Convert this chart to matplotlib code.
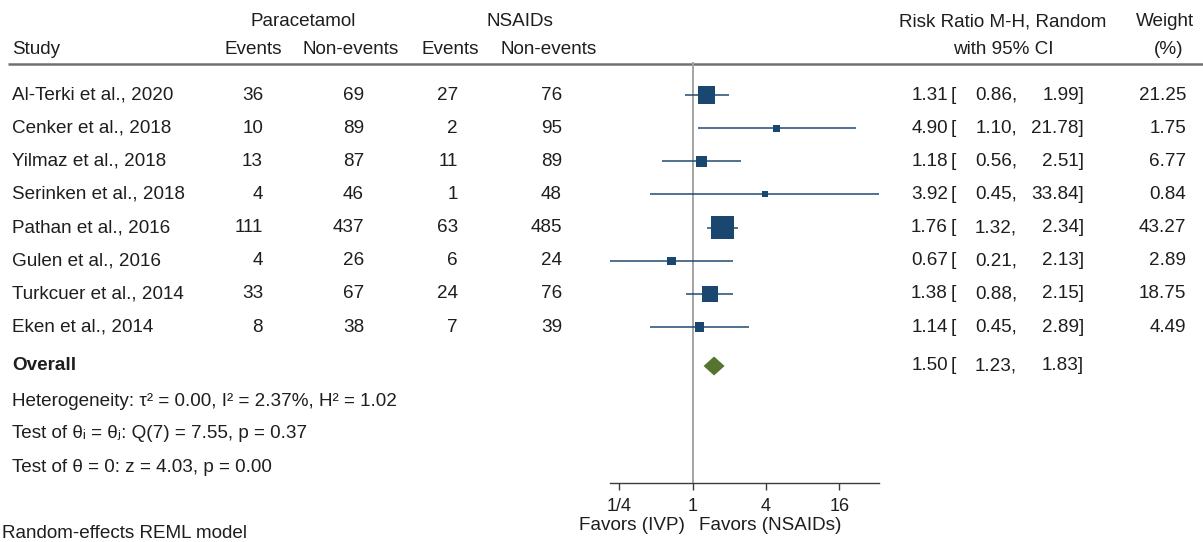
import matplotlib
matplotlib.use("Agg")
import matplotlib.pyplot as plt
import numpy as np

plt.rcParams['font.family'] = ['Liberation Sans', 'DejaVu Sans']

studies = ["Al-Terki et al., 2020", "Cenker et al., 2018", "Yilmaz et al., 2018",
           "Serinken et al., 2018", "Pathan et al., 2016", "Gulen et al., 2016",
           "Turkcuer et al., 2014", "Eken et al., 2014"]
para_events = [36, 10, 13, 4, 111, 4, 33, 8]
para_nonevents = [69, 89, 87, 46, 437, 26, 67, 38]
nsaid_events = [27, 2, 11, 1, 63, 6, 24, 7]
nsaid_nonevents = [76, 95, 89, 48, 485, 24, 76, 39]
rr = [1.31, 4.90, 1.18, 3.92, 1.76, 0.67, 1.38, 1.14]
rr_lo = [0.86, 1.10, 0.56, 0.45, 1.32, 0.21, 0.88, 0.45]
rr_hi = [1.99, 21.78, 2.51, 33.84, 2.34, 2.13, 2.15, 2.89]
weights = [21.25, 1.75, 6.77, 0.84, 43.27, 2.89, 18.75, 4.49]
overall_rr, overall_lo, overall_hi = 1.50, 1.23, 1.83
tick_vals = [0.25, 1, 4, 16]
tick_labels = ["1/4", "1", "4", "16"]
stats_lines = ["Heterogeneity: \u03c4\u00b2 = 0.00, I\u00b2 = 2.37%, H\u00b2 = 1.02",
               "Test of \u03b8\u1d62 = \u03b8\u2c7c: Q(7) = 7.55, p = 0.37",
               "Test of \u03b8 = 0: z = 4.03, p = 0.00"]

W, H = 1203, 542
FS = 13.6
NAVY = "#1a476f"
GREEN = "#55752f"
TXT = "#1e1e1e"

fig = plt.figure(figsize=(W / 100, H / 100), dpi=100)
bg = fig.add_axes([0, 0, 1, 1])
bg.set_xlim(0, W)
bg.set_ylim(H, 0)
bg.axis("off")

# forest axes (pixel-based y)
ax_left, ax_right, ax_top, ax_bot = 610, 879, 62, 483
ax = fig.add_axes([ax_left / W, (H - ax_bot) / H, (ax_right - ax_left) / W, (ax_bot - ax_top) / H])
ax.patch.set_alpha(0)
ax.set_xscale("log", base=2)
ax.set_xlim(min(rr_lo), max(rr_hi))
ax.set_ylim(ax_bot, ax_top)
for s in ["top", "right", "left"]:
    ax.spines[s].set_visible(False)
ax.spines["bottom"].set_color("#3c3c3c")
ax.spines["bottom"].set_linewidth(1.0)
ax.set_yticks([])
ax.set_xticks(tick_vals)
ax.set_xticklabels(tick_labels)
ax.minorticks_off()
ax.tick_params(axis="x", length=5, width=1.0, color="#3c3c3c", pad=6, labelsize=13, labelcolor=TXT)
ax.axvline(1, color="#a4a4a4", lw=1.4, zorder=1)

row0, dy = 95, 33.15
rows_y = [row0 + i * dy for i in range(len(studies))]
overall_y = 366

# CI lines and squares
ax.hlines(rows_y, rr_lo, rr_hi, color=NAVY, lw=1.2, zorder=2, alpha=0.9)
sides = [3.2 + 3.0 * np.sqrt(w) for w in weights]
ax.scatter(rr, rows_y, s=[(sd * 0.72) ** 2 for sd in sides], marker="s", color=NAVY,
           linewidths=0, zorder=3)
# diamond
hh = 9.5
ax.fill([overall_lo, overall_rr, overall_hi, overall_rr],
        [overall_y, overall_y - hh, overall_y, overall_y + hh], color=GREEN, lw=0, zorder=3)

def t(x, y, s, ha="left", **kw):
    bg.text(x, y, s, ha=ha, va="center", fontsize=FS, color=TXT, **kw)

# headers
t(303, 22, "Paracetamol", ha="center")
t(520, 22, "NSAIDs", ha="center")
t(12, 49, "Study")
t(253, 49, "Events", ha="center")
t(351, 49, "Non-events", ha="center")
t(450, 49, "Events", ha="center")
t(549, 49, "Non-events", ha="center")
t(1003, 22, "Risk Ratio M-H, Random", ha="center")
t(1003, 49, "with 95% CI", ha="center")
t(1165, 22, "Weight", ha="center")
t(1169, 49, "(%)", ha="center")
bg.hlines(63.5, 8, W, color="#707070", lw=1.8)

for i, y in enumerate(rows_y):
    t(12, y, studies[i])
    t(263, y, str(para_events[i]), ha="right")
    t(364, y, str(para_nonevents[i]), ha="right")
    t(458, y, str(nsaid_events[i]), ha="right")
    t(562, y, str(nsaid_nonevents[i]), ha="right")
    t(948, y, f"{rr[i]:.2f}", ha="right")
    t(951, y, "[")
    t(1017, y, f"{rr_lo[i]:.2f},", ha="right")
    t(1084, y, f"{rr_hi[i]:.2f}]", ha="right")
    t(1186, y, f"{weights[i]:.2f}", ha="right")

t(12, overall_y, "Overall", fontweight="bold")
t(948, overall_y, f"{overall_rr:.2f}", ha="right")
t(951, overall_y, "[")
t(1017, overall_y, f"{overall_lo:.2f},", ha="right")
t(1084, overall_y, f"{overall_hi:.2f}]", ha="right")

for k, line in enumerate(stats_lines):
    t(12, 401 + k * 33, line)

t(632, 526, "Favors (IVP)", ha="center")
t(770, 526, "Favors (NSAIDs)", ha="center")
t(2, 533, "Random-effects REML model")

fig.savefig("out.png", dpi=100)
